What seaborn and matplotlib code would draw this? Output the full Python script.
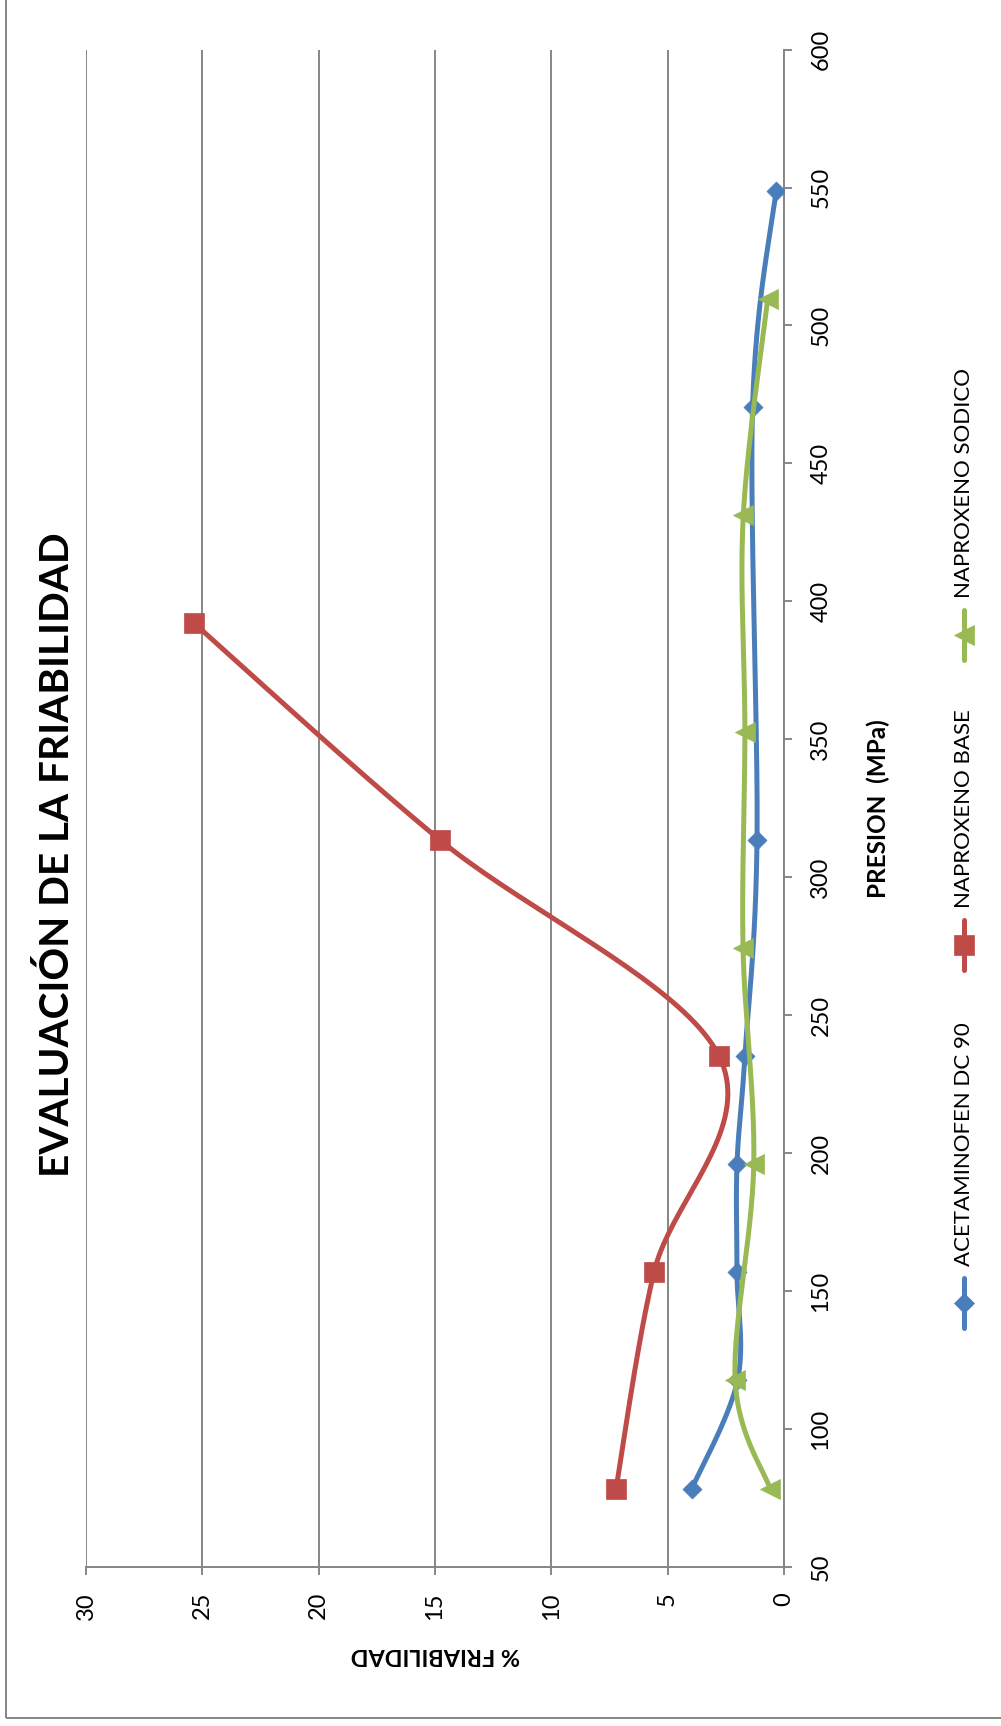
import numpy as np
import matplotlib
matplotlib.use("Agg")
import matplotlib.pyplot as plt
import seaborn as sns
from matplotlib.lines import Line2D
from matplotlib.patches import Rectangle
from matplotlib import font_manager

# ---- data ----
presion_acet = [78.4, 117.6, 156.8, 196.0, 235.2, 313.6, 470.4, 548.8]
friab_acet = [3.96, 2.00, 2.02, 2.02, 1.68, 1.16, 1.35, 0.34]

presion_base = [78.4, 156.8, 235.2, 313.6, 392.0]
friab_base = [7.22, 5.59, 2.79, 14.80, 25.34]

presion_sodico = [78.4, 117.6, 196.0, 274.4, 352.8, 431.2, 509.6]
friab_sodico = [0.60, 2.10, 1.30, 1.76, 1.68, 1.75, 0.70]

series_names = ["ACETAMINOFEN DC 90", "NAPROXENO BASE", "NAPROXENO SODICO"]
presion_ticks = list(range(50, 601, 50))
friab_ticks = list(range(0, 31, 5))

title = "EVALUACIÓN DE LA FRIABILIDAD"
xlabel = "PRESION  (MPa)"
ylabel = "% FRIABILIDAD"

# ---- style ----
colors = ["#4A7EBB", "#BE4B48", "#98B954"]
markers = ["D", "s", "<"]
marker_sizes = [9.7, 13.7, 14.4]
grid_color = "#868686"

sns.set_theme(style="white")
available = {f.name for f in font_manager.fontManager.ttflist}
base_font = next(f for f in ["Lato", "Open Sans", "DejaVu Sans"] if f in available)
plt.rcParams["font.family"] = [base_font, "DejaVu Sans"]

W, H = 1001, 1726
fig = plt.figure(figsize=(W / 100, H / 100), dpi=100)
fig.patch.set_facecolor("white")

def fx(px):
    return px / W

def fy(py):
    return 1 - py / H

# chart rotated a quarter turn: pressure runs upward, friability runs right-to-left
ax = fig.add_axes([fx(86), fy(1567), fx(784 - 86), (1567 - 49.6) / H])
ax.set_xlim(30, 0)
ax.set_ylim(50, 600)
ax.set_facecolor("white")

for side in ["top", "left"]:
    ax.spines[side].set_visible(False)
for side in ["right", "bottom"]:
    ax.spines[side].set_color(grid_color)
    ax.spines[side].set_linewidth(1.4)

ax.set_xticks(friab_ticks)
ax.set_yticks(presion_ticks)
ax.xaxis.grid(True, color=grid_color, linewidth=1.4)
ax.yaxis.grid(False)
ax.yaxis.tick_right()
ax.tick_params(axis="x", direction="out", length=6, width=1.4, color=grid_color,
               labelsize=17, labelcolor="black", pad=12, labelrotation=90, bottom=True)
ax.tick_params(axis="y", direction="out", length=6, width=1.4, color=grid_color,
               labelsize=17, labelcolor="black", pad=13, labelrotation=90, right=True, left=False)
for lab in ax.get_yticklabels():
    lab.set_va("center")
ax.set_xlabel("")
ax.set_ylabel("")


def smooth_curve(xs, ys, n=40):
    """Cubic Bezier smoothing (Catmull-Rom style) computed in display space."""
    pts = ax.transData.transform(np.column_stack([xs, ys]))
    P = np.vstack([pts[0], pts, pts[-1]])
    t = np.linspace(0, 1, n)[:, None]
    parts = []
    for i in range(1, len(P) - 2):
        p0, p1, p2, p3 = P[i - 1], P[i], P[i + 1], P[i + 2]
        c1 = p1 + (p2 - p0) / 6
        c2 = p2 - (p3 - p1) / 6
        seg = ((1 - t) ** 3) * p1 + 3 * ((1 - t) ** 2) * t * c1 \
            + 3 * (1 - t) * t ** 2 * c2 + t ** 3 * p2
        parts.append(seg if i == 1 else seg[1:])
    return ax.transData.inverted().transform(np.vstack(parts))


series = [(friab_acet, presion_acet), (friab_base, presion_base), (friab_sodico, presion_sodico)]
for k, (fr, pr) in enumerate(series):
    curve = smooth_curve(fr, pr)
    sns.lineplot(x=curve[:, 0], y=curve[:, 1], sort=False, estimator=None, ax=ax,
                 color=colors[k], linewidth=3.6, zorder=3 + k, legend=False)
    sns.scatterplot(x=fr, y=pr, ax=ax, marker=markers[k], s=marker_sizes[k] ** 2,
                    color=colors[k], edgecolor=colors[k], linewidth=0.5,
                    zorder=3.5 + k, legend=False)
ax.set_xlim(30, 0)
ax.set_ylim(50, 600)
ax.set_xlabel("")
ax.set_ylabel("")

# titles and axis names
fig.text(fx(57), fy(855), title, rotation=90, ha="center", va="center",
         fontsize=29.2, fontweight="bold", color="black")
fig.text(fx(878), fy(809), xlabel, rotation=90, ha="center", va="center",
         fontsize=17.5, fontweight="bold", color="black")
fig.text(fx(435), fy(1654), ylabel, rotation=180, ha="center", va="center",
         fontsize=16.8, fontweight="bold", color="black")

# legend, laid out along the right edge
legend_y = [1303, 945, 635]
legend_x = 964
for k, ym in enumerate(legend_y):
    fig.add_artist(Line2D([fx(legend_x)] * 2, [fy(ym + 25), fy(ym - 25)],
                          transform=fig.transFigure, color=colors[k], linewidth=3.6))
    fig.add_artist(Line2D([fx(legend_x)], [fy(ym)], transform=fig.transFigure,
                          color=colors[k], marker=markers[k], markersize=marker_sizes[k],
                          markeredgewidth=0.5, linestyle="none"))
    fig.text(fx(legend_x), fy(ym - 37), series_names[k], rotation=90,
             ha="center", va="bottom", fontsize=16, color="black")

# chart frame
fig.add_artist(Rectangle((fx(6.4), fy(1718)), 2, 2, transform=fig.transFigure,
                         fill=False, edgecolor=grid_color, linewidth=1.4))

fig.savefig("out.png", dpi=100, facecolor="white")
